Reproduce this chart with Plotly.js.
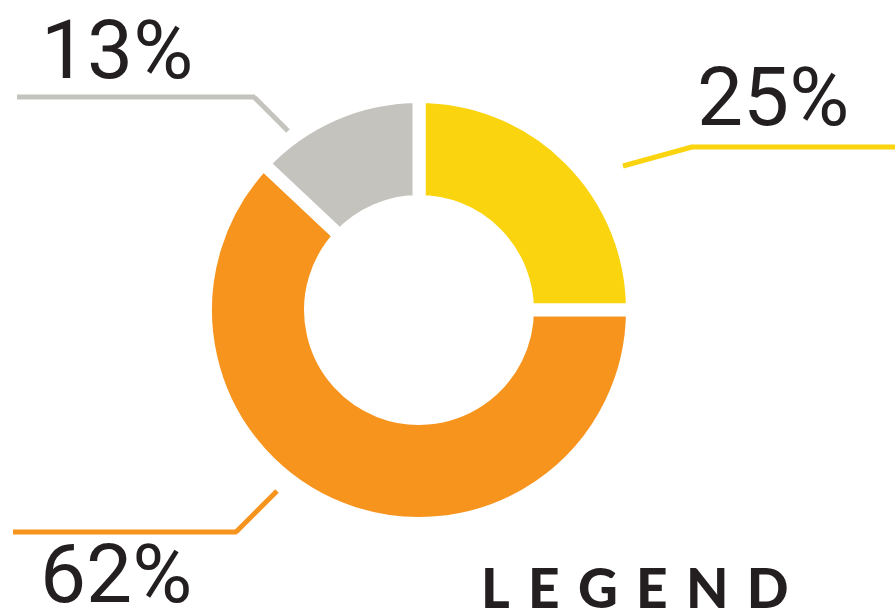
<!DOCTYPE html>
<html>
<head>
<meta charset="utf-8">
<script src="https://cdn.plot.ly/plotly-3.0.1.min.js"></script>
<style>html,body{margin:0;padding:0;background:#fff;}#chart{width:895px;height:613px;}</style>
</head>
<body>
<div id="chart"></div>
<script>
// ---- data ----
const categories = ['Yellow', 'Orange', 'Gray'];
const values = [25, 62, 13];
const sliceColors = ['#FAD40E', '#F7941E', '#C4C3BE'];
const legendTitle = 'LEGEND';

// ---- layout helpers (pixel -> paper) ----
const W = 895, H = 613;
const px = x => x / W;
const py = y => 1 - y / H;

const cx = 419, cy = 310, R = 213.5;

const trace = {
  type: 'pie',
  labels: categories,
  values: values,
  sort: false,
  direction: 'clockwise',
  rotation: 0,
  hole: 0.508,
  textinfo: 'none',
  hoverinfo: 'skip',
  marker: { colors: sliceColors, line: { color: '#ffffff', width: 13 } },
  domain: { x: [px(cx - R), px(cx + R)], y: [py(cy + R), py(cy - R)] },
  showlegend: false
};

const pctFont = { family: 'Roboto, "Liberation Sans", sans-serif', size: 82, color: '#231F20', weight: 400 };

function pctAnn(i, x, y) {
  return {
    text: values[i] + '%', xref: 'paper', yref: 'paper',
    x: px(x), y: py(y), xanchor: 'left', yanchor: 'middle',
    showarrow: false, font: pctFont
  };
}

const annotations = [
  pctAnn(2, 39, 50),
  pctAnn(0, 695, 97),
  pctAnn(1, 38, 574),
  {
    text: legendTitle.split('').join('\u2004'), xref: 'paper', yref: 'paper',
    x: px(479), y: py(587), xanchor: 'left', yanchor: 'middle', showarrow: false,
    font: { family: 'Lato, "DejaVu Sans", sans-serif', size: 55, color: '#231F20', weight: 900 }
  }
];

function seg(x0, y0, x1, y1, color) {
  return { type: 'line', xref: 'paper', yref: 'paper', x0: px(x0), y0: py(y0), x1: px(x1), y1: py(y1),
           line: { color: color, width: 5 } };
}

const shapes = [
  seg(17, 97, 255, 97, sliceColors[2]),
  seg(254, 97, 288, 131, sliceColors[2]),
  seg(623, 166, 692, 147, sliceColors[0]),
  seg(691, 147, 895, 147, sliceColors[0]),
  seg(277, 491, 236, 532, sliceColors[1]),
  seg(237, 532, 13, 532, sliceColors[1])
];

const layout = {
  width: W, height: H,
  margin: { l: 0, r: 0, t: 0, b: 0 },
  paper_bgcolor: '#ffffff', plot_bgcolor: '#ffffff',
  showlegend: false,
  annotations: annotations,
  shapes: shapes
};

Plotly.newPlot('chart', [trace], layout, { displayModeBar: false, staticPlot: true });
</script>
</body>
</html>
